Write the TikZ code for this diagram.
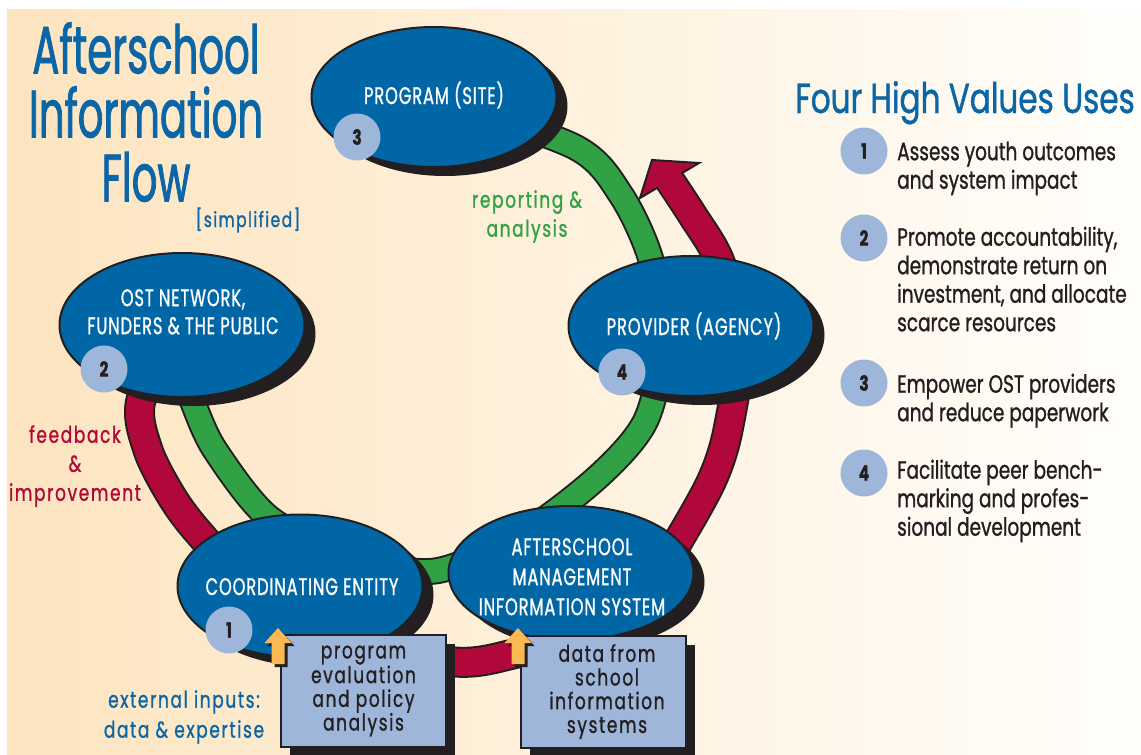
\documentclass[tikz,border=0pt]{standalone}
\usepackage{fontspec}
\newfontfamily\headfont[FakeStretch=0.6,FakeBold=1.2]{Poppins}
\newfontfamily\cond[FakeStretch=0.74,FakeBold=1]{Poppins}
\newfontfamily\blobfont[FakeStretch=0.68,FakeBold=1,LetterSpace=3.5]{Poppins}
\newfontfamily\condwide[FakeStretch=0.74,FakeBold=1,LetterSpace=7]{Poppins}
\usetikzlibrary{shapes.geometric,shadows,calc}
\definecolor{siteblue}{RGB}{0,102,166}
\definecolor{titleblue}{RGB}{10,102,166}
\definecolor{badgeblue}{RGB}{158,182,218}
\definecolor{flowgreen}{RGB}{48,161,69}
\definecolor{flowred}{RGB}{176,8,58}
\definecolor{inputorange}{RGB}{252,184,82}
\definecolor{inktext}{RGB}{35,31,32}
\definecolor{peach}{RGB}{253,228,191}
\definecolor{midpeach}{RGB}{254,238,214}
\definecolor{creamwhite}{RGB}{255,254,251}
\pgfdeclarelayer{bg}
\pgfsetlayers{bg,main}

\begin{document}
\begin{tikzpicture}[x=1pt,y=-1pt,
  blob/.style={ellipse, draw=inktext, line width=2pt, fill=siteblue, inner sep=0pt,
    minimum width=245pt, minimum height=140pt,
    drop shadow={shadow xshift=11pt, shadow yshift=-9pt, fill=inktext, opacity=1}},
  blobtext/.style={text=white, font=\blobfont\fontsize{24}{29}\selectfont, align=center, inner sep=0pt},
  badge/.style={circle, fill=badgeblue, minimum size=47pt, inner sep=0pt, text=inktext,
    font=\cond\bfseries\fontsize{21}{21}\selectfont},
  inputbox/.style={draw=inktext, line width=2pt, fill=badgeblue, minimum width=165pt,
    minimum height=112pt, inner sep=0pt, align=center, text=inktext,
    font=\condwide\fontsize{23}{23.7}\selectfont,
    drop shadow={shadow xshift=9pt, shadow yshift=-9pt, fill=inktext, opacity=1}},
  usetext/.style={text=inktext, font=\cond\fontsize{25}{28.5}\selectfont, align=left,
    inner sep=0pt, anchor=north west},
  flowlabel/.style={font=\condwide\fontsize{23}{29}\selectfont, align=center, inner sep=0pt, anchor=north},
  ringhead/.style={draw=inktext, line width=2pt, line join=miter},
  inarrow/.pic={
    \fill[inktext] (3,3) -- (16.5,18) -- (9.5,18) -- (9.5,39) -- (-3.5,39) -- (-3.5,18) -- (-10.5,18) -- cycle;
    \fill[inputorange] (0,0) -- (13.5,15) -- (6.5,15) -- (6.5,36) -- (-6.5,36) -- (-6.5,15) -- (-13.5,15) -- cycle;
  }]
\useasboundingbox (0,0) rectangle (1141,755);

% the five places
\node[blob] (prog) at (434,97) {};
\node[blob] (prov) at (691,326) {};
\node[blob, minimum height=144pt] (ost) at (182,325) {};
\node[blob, minimum height=143pt] (coord) at (300,586) {};
\node[blob, minimum height=134pt] (mis) at (571,573) {};

\node[blobtext, anchor=base] (progtxt) at (434,104) {PROGRAM (SITE)};
\node[blobtext, anchor=base] (provtxt) at (694,335) {PROVIDER (AGENCY)};
\node[blobtext, anchor=north, font=\blobfont\fontsize{24}{28}\selectfont] (osttxt) at (183,289) {OST NETWORK,\\FUNDERS \& THE PUBLIC};
\node[blobtext, anchor=base] (coordtxt) at (302,595) {COORDINATING ENTITY};
\node[blobtext, anchor=north, font=\blobfont\fontsize{24}{30}\selectfont] (mistxt) at (572,538) {AFTERSCHOOL\\MANAGEMENT\\INFORMATION SYSTEM};

\node[badge] (b3) at ($(prog)+(-77,40)$) {3};
\node[badge] (b2) at ($(ost)+(-78,44)$) {2};
\node[badge] (b4) at ($(prov)+(-69,46)$) {4};
\node[badge] (b1) at ($(coord)+(-71,44)$) {1};

% external inputs
\node[inputbox] (evalbox) at (363.5,691) {program\\evaluation\\and policy\\analysis};
\node[inputbox] (schoolbox) at (603.5,691.5) {\hspace*{7pt}data from\\\hspace*{7pt}school\\\hspace*{7pt}information\\\hspace*{7pt}systems};
\pic at (278,628) {inarrow};
\pic at (518,628) {inarrow};

% the two loops
\begin{pgfonlayer}{bg}
\fill[white] (0,0) rectangle (1141,755);
\shade[left color=peach, middle color=midpeach, right color=creamwhite] (7,9) rectangle (1141,755);
\coordinate (gend) at (191,392);
\coordinate (rend) at (668,178);
\path[save path=\greenloop] plot[smooth] coordinates {(prog) (575,147) (621,195) (651,260)
  (663,340) (646,420) (600,475) (525,532) (435,571) (345,556) (268,517) (215,450) (194,405) (gend)};
\path[save path=\redloop] plot[smooth] coordinates {(ost) (141,400) (148,450) (172,497) (199,533)
  (250,585) (350,642) (455,662) (513,654) (590,630) (650,585) (680,538) (712,480) (728,430)
  (740,340) (720,262) (693,216) (rend)};
\draw[inktext, line width=27pt, use path=\greenloop];
\filldraw[ringhead, fill=flowgreen] (164,401) -- (187,368) -- (219,389) -- cycle;
\draw[flowgreen, line width=23pt, use path=\greenloop];
\draw[inktext, line width=31pt, use path=\redloop];
\filldraw[ringhead, fill=flowred] (640,198) -- (652,160) -- (699,163) -- cycle;
\draw[flowred, line width=27pt, use path=\redloop];
\end{pgfonlayer}

% labels
\node[text=titleblue, font=\headfont\fontsize{67}{64}\selectfont, align=center, inner sep=0pt, anchor=north] (title) at (146,22) {Afterschool\\Information\\Flow};
\node[text=titleblue, font=\condwide\fontsize{21}{21}\selectfont, inner sep=0pt, anchor=base] (simpl) at (248,227) {[simplified]};
\node[flowlabel, text=flowgreen] (report) at (527,190) {reporting \&\\analysis};
\node[flowlabel, text=flowred] (feedback) at (75,425) {feedback\\\&\\improvement};
\node[flowlabel, text=titleblue, font=\condwide\fontsize{23}{30}\selectfont] (extin) at (184,690) {external inputs:\\data \& expertise};

% four uses
\node[text=titleblue, font=\cond\fontsize{42}{42}\selectfont, inner sep=0pt, anchor=base] (uses) at (965,113) {Four High Values Uses};
\foreach \n/\y in {1/151,2/238,3/383,4/473}
  \node[badge] (use\n) at (864,\y) {\n};
\node[usetext] (use1txt) at (897,141.5) {Assess youth outcomes\\and system impact};
\node[usetext] (use2txt) at (897,226.5) {Promote accountability,\\demonstrate return on\\investment, and allocate\\scarce resources};
\node[usetext] (use3txt) at (897,373.5) {Empower OST providers\\and reduce paperwork};
\node[usetext] (use4txt) at (897,459.5) {Facilitate peer bench-\\marking and profes-\\sional development};
\end{tikzpicture}
\end{document}
